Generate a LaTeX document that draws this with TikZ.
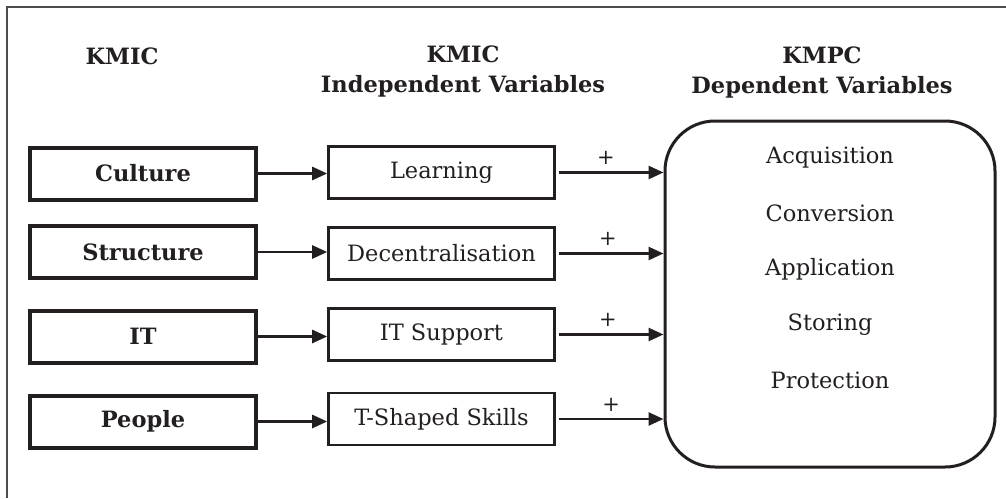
\documentclass[tikz,border=0pt]{standalone}
\usepackage{fontspec}
\setmainfont{DejaVu Serif}
\usetikzlibrary{arrows.meta}
\definecolor{ink}{HTML}{231F20}
\tikzset{
  x=1pt, y=-1pt,
  every node/.style={text=ink, font=\fontsize{22.5}{30}\selectfont},
  leftbox/.style={draw=ink, line width=4pt, minimum width=226pt, minimum height=52pt, inner sep=0pt, font=\fontsize{22.5}{30}\selectfont\bfseries},
  midbox/.style={draw=ink, line width=2.6pt, minimum width=226pt, minimum height=52pt, inner sep=0pt},
  head/.style={align=center, font=\fontsize{22.5}{30}\selectfont\bfseries},
  link/.style={draw=ink, line width=2.6pt, -{Triangle[length=15pt,width=13pt]}},
  plus/.style={font=\fontsize{21}{24}\selectfont},
  item/.style={font=\fontsize{22.5}{26}\selectfont}
}
\begin{document}
\begin{tikzpicture}
\useasboundingbox (0,0) rectangle (1006,498);
\fill[white] (0,0) rectangle (1006,498);
% frame (top and left edges)
\draw[ink!80, line width=1.6pt] (7,498) -- (7,7) -- (1006,7);

% headings
\node[head] (h1) at (122,56) {KMIC};
\node[head] (h2) at (463,71) {KMIC\\Independent Variables};
\node[head] (h3) at (822,72) {KMPC\\Dependent Variables};

% left column
\node[leftbox] (l1) at (143,173.5) {Culture};
\node[leftbox] (l2) at (143,252) {Structure};
\node[leftbox] (l3) at (143,336.5) {IT};
\node[leftbox] (l4) at (143,421.5) {People};

% middle column
\node[midbox] (m1) at (441.5,172.5) {Learning};
\node[midbox] (m2) at (441.5,253.5) {Decentralisation};
\node[midbox] (m3) at (441.5,334.5) {IT Support};
\node[midbox] (m4) at (441.5,419) {T-Shaped Skills};

% dependent box
\node[draw=ink, line width=3pt, rounded corners=50pt, minimum width=330pt, minimum height=346pt, inner sep=0pt] (dv) at (830,294) {};
\node[item] (d1) at (830,158) {Acquisition};
\node[item] (d2) at (830,213) {Conversion};
\node[item] (d3) at (830,269) {Application};
\node[item] (d4) at (830,325) {Storing};
\node[item] (d5) at (830,380) {Protection};

% left -> middle
\draw[link] (l1.east) -- (l1.east -| m1.west);
\draw[link] (l2.east) -- (l2.east -| m2.west);
\draw[link] (l3.east) -- (l3.east -| m3.west);
\draw[link] (l4.east) -- (l4.east -| m4.west);

% middle -> dependent
\draw[link] ([xshift=3pt]m1.east) -- (m1.east -| dv.west) node[plus, pos=0.45, above=3pt] (p1) {+};
\draw[link] ([xshift=3pt]m2.east) -- (m2.east -| dv.west) node[plus, pos=0.47, above=3pt] (p2) {+};
\draw[link] ([xshift=3pt]m3.east) -- (m3.east -| dv.west) node[plus, pos=0.47, above=3pt] (p3) {+};
\draw[link] ([xshift=3pt]m4.east) -- (m4.east -| dv.west) node[plus, pos=0.50, above=3pt] (p4) {+};
\end{tikzpicture}
\end{document}
